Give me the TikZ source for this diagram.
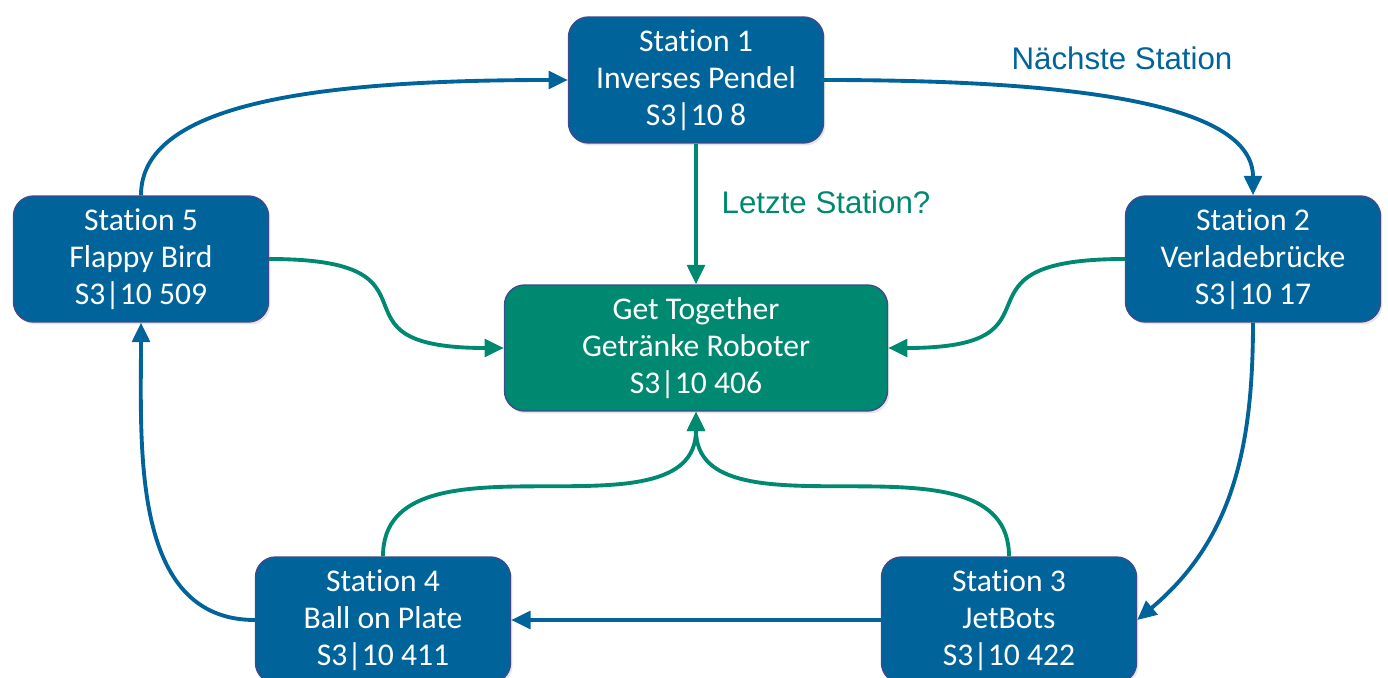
\documentclass[tikz,border=0pt]{standalone}
\usepackage{fontspec}
\setmainfont{Carlito}[Ligatures=NoCommon]
\newfontfamily\notefont{Liberation Sans}
\usetikzlibrary{arrows.meta,shadows}
\definecolor{stblue}{RGB}{0,100,155}
\definecolor{stgreen}{RGB}{0,137,113}
\definecolor{stedge}{RGB}{62,74,138}
\begin{document}
\begin{tikzpicture}[->,>={Triangle[length=11pt,width=10pt]}]
  \def\f{0.02};

\tikzstyle{station}=[draw=stedge,line width=0.8pt,fill=stblue,text=white,rounded corners=0.4cm,minimum width=5.1cm,minimum height=2.52cm,align=center,font=\fontsize{18}{21.2}\selectfont,drop shadow={opacity=0.2,shadow xshift=0.04cm,shadow yshift=-0.05cm}]
\tikzstyle{nextline}=[draw=stblue,line width=2.2pt]
\tikzstyle{lastline}=[draw=stgreen,line width=2.2pt]
\tikzstyle{note}=[font=\notefont\fontsize{17.8}{21}\selectfont]
\useasboundingbox (0,0) rectangle (1388*\f,-678*\f);
\node[station] (S1) at (696*\f,-80*\f) {Station 1\\Inverses Pendel\\S3|10 8};
\node[station] (S2) at (1253*\f,-259*\f) {Station 2\\Verladebrücke\\S3|10 17};
\node[station] (S3) at (1009*\f,-620*\f) {Station 3\\JetBots\\S3|10 422};
\node[station] (S4) at (383*\f,-620*\f) {Station 4\\Ball on Plate\\S3|10 411};
\node[station] (S5) at (141*\f,-259*\f) {Station 5\\Flappy Bird\\S3|10 509};
\node[station][fill=stgreen,minimum width=7.66cm] (G) at (696*\f,-348*\f) {Get Together\\Getränke Roboter\\S3|10 406};
\node[note][text=stblue] (N) at (1122*\f,-58*\f) {Nächste Station};
\node[note][text=stgreen] (L) at (826*\f,-202*\f) {Letzte Station?};
\draw[nextline] (S1.east) .. controls +(260*\f,0) and +(0,90*\f) .. (S2.north);
\draw[nextline] (S2.south) to[out=-90,in=40] (S3.east);
\draw[nextline] (S3.west) -- (S4.east);
\draw[nextline] (S4.west) to[out=180,in=-90] (S5.south);
\draw[nextline] (S5.north) .. controls +(0,90*\f) and +(-260*\f,0) .. (S1.west);
\draw[lastline] (S1.south) -- (G.north);
\draw[lastline] (S5.east) .. controls +(190*\f,0) and +(-190*\f,0) .. (G.west);
\draw[lastline] (S2.west) .. controls +(-190*\f,0) and +(190*\f,0) .. (G.east);
\draw[lastline] (S4.north) to[out=90,in=-90] (G.south);
\draw[lastline] (S3.north) to[out=90,in=-90] (G.south);
\end{tikzpicture}
\end{document}
